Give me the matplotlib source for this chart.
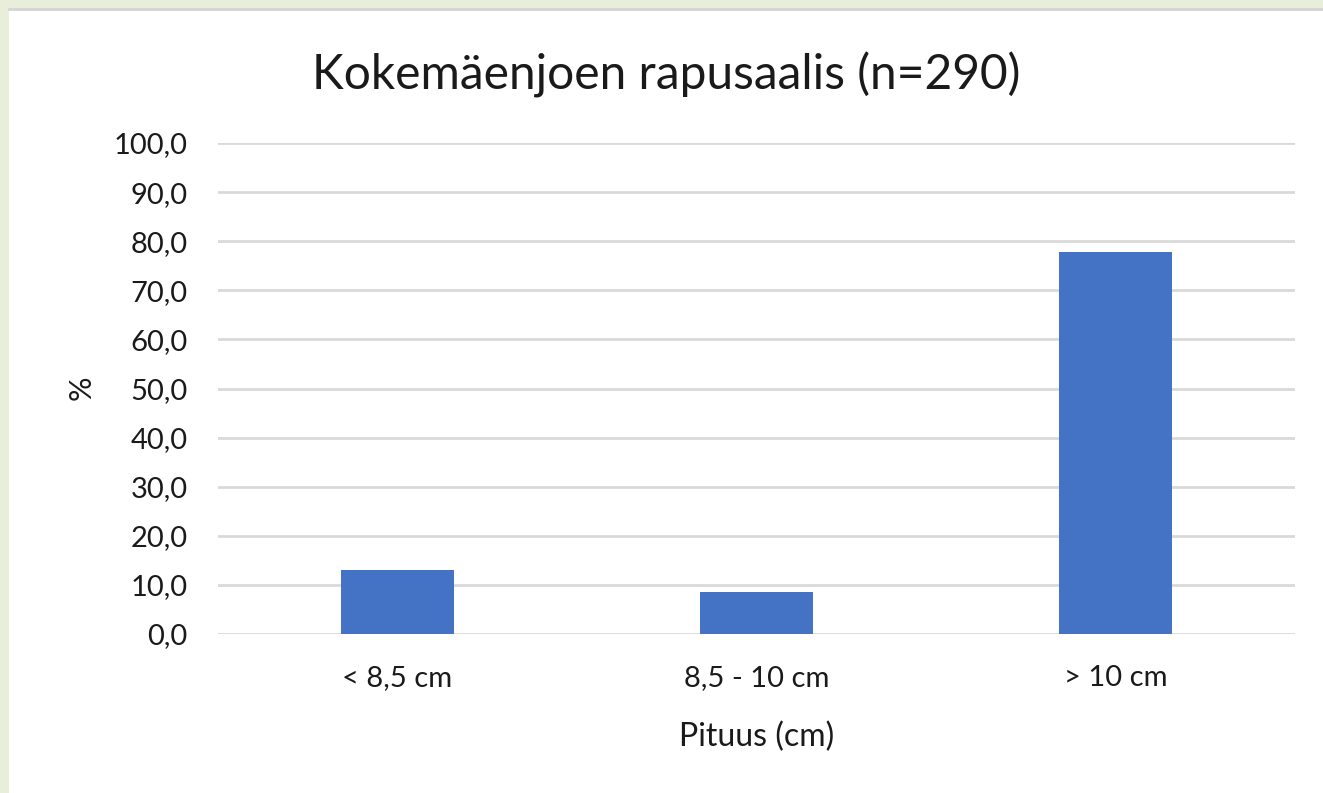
import matplotlib.pyplot as plt
from matplotlib.patches import Rectangle

# data
categories = ['< 8,5 cm', '8,5 - 10 cm', '> 10 cm']
percent = [13.1, 8.6, 77.9]
yticks = [0, 10, 20, 30, 40, 50, 60, 70, 80, 90, 100]

plt.rcParams['font.family'] = ['Lato', 'DejaVu Sans']

fig = plt.figure(figsize=(13.23, 7.93), dpi=100)
fig.patch.set_facecolor('#e9eedb')

# white chart area on top of the slide background
fig.patches.append(Rectangle((9/1323, 0), 1 - 9/1323, 1 - 9/793, transform=fig.transFigure,
                             facecolor='white', edgecolor='none', zorder=-5))
fig.add_artist(plt.Line2D([9/1323, 1], [1 - 9/793, 1 - 9/793], transform=fig.transFigure,
                          color='#d4d4d4', lw=2, zorder=-4))

ax = fig.add_axes([218/1323, 1 - 634/793, (1295 - 218)/1323, (634 - 143)/793])
ax.set_facecolor('none')

x = range(len(categories))
ax.bar(x, percent, width=0.315, color='#4472c4', zorder=3)

ax.set_xlim(-0.5, 2.5)
ax.set_ylim(0, 100)
ax.set_yticks(yticks)
ax.set_yticklabels([f'{v:.1f}'.replace('.', ',') for v in yticks], fontsize=21, color='#1a1a1a')
ax.set_xticks(list(x))
ax.set_xticklabels(categories, fontsize=21, color='#1a1a1a')
ax.tick_params(axis='y', length=0, pad=22)
ax.tick_params(axis='x', length=0, pad=22)
ax.grid(axis='y', color='#d9d9d9', lw=2)
ax.set_axisbelow(True)
for s in ax.spines.values():
    s.set_visible(False)

ax.set_xlabel('Pituus (cm)', fontsize=23, color='#1a1a1a')
ax.xaxis.set_label_coords(0.5, (634 - 737) / 491)
ax.xaxis.label.set_va('center')
ax.set_ylabel('%', fontsize=22, color='#1a1a1a')
ax.yaxis.set_label_coords((82 - 218) / 1077, (634 - 388) / 491)
ax.yaxis.label.set_va('center')
fig.text(0.5 + 5/1323, 1 - 75/793, 'Kokemäenjoen rapusaalis (n=290)', ha='center', va='center',
         fontsize=34.5, color='#1a1a1a')

fig.savefig('out.png', dpi=100, facecolor=fig.get_facecolor())
